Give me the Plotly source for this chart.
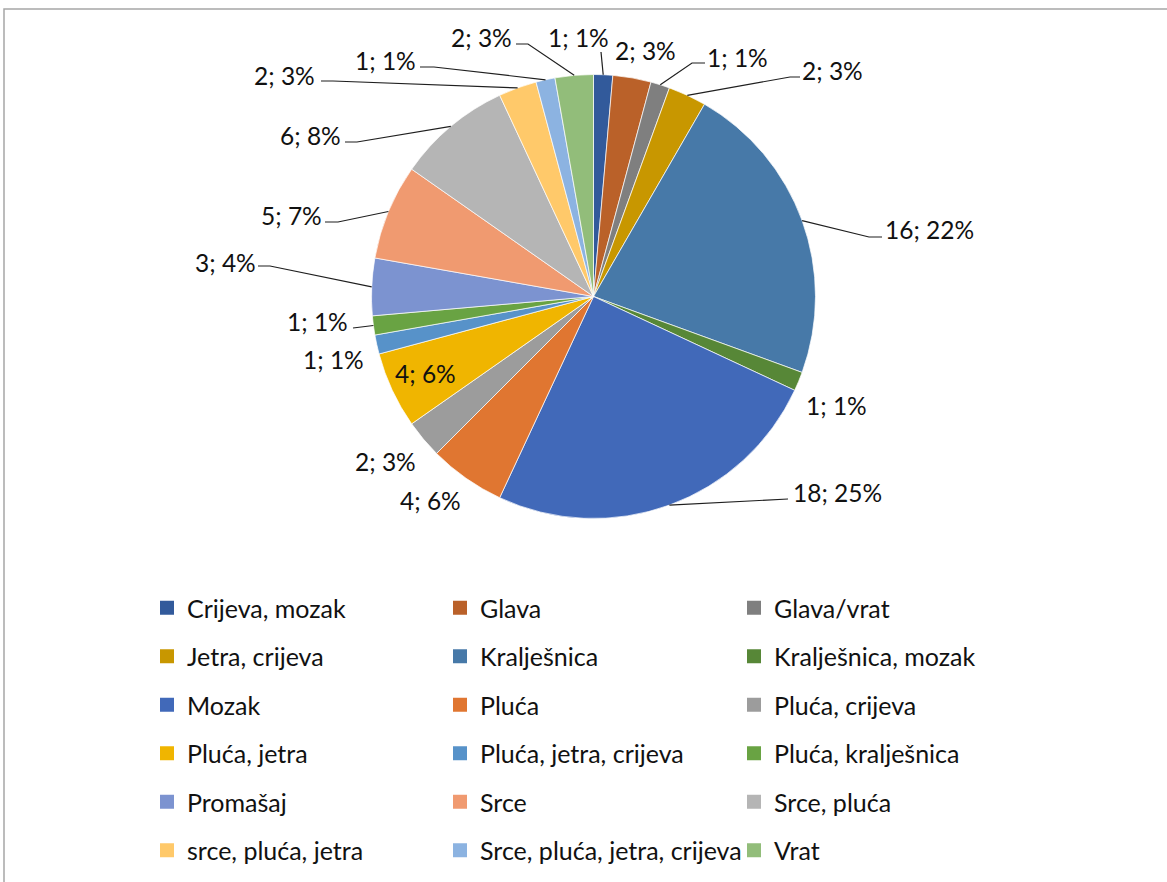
import math
import plotly.graph_objects as go

# ---------------- data ----------------
categories = [
    "Crijeva, mozak", "Glava", "Glava/vrat", "Jetra, crijeva", "Kralješnica",
    "Kralješnica, mozak", "Mozak", "Pluća", "Pluća, crijeva", "Pluća, jetra",
    "Pluća, jetra, crijeva", "Pluća, kralješnica", "Promašaj", "Srce",
    "Srce, pluća", "srce, pluća, jetra", "Srce, pluća, jetra, crijeva", "Vrat",
]
counts = [1, 2, 1, 2, 16, 1, 18, 4, 2, 4, 1, 1, 3, 5, 6, 2, 1, 2]
percent_labels = ["1%", "3%", "1%", "3%", "22%", "1%", "25%", "6%", "3%", "6%",
                  "1%", "1%", "4%", "7%", "8%", "3%", "1%", "3%"]

# ---------------- styles / layout ----------------
colors = [
    "#325A9B", "#BA6129", "#7F7F7F", "#C89700", "#4779A8", "#578737",
    "#4169B9", "#E07631", "#9C9C9C", "#F0B500", "#5792C9", "#69A343",
    "#7C93D0", "#F09A70", "#B5B5B5", "#FFC96A", "#8CB3E1", "#92BD7A",
]
W, H = 1167, 882
CX, CY, R = 593.5, 296.5, 222.0          # pie centre / radius in px
FONT = "Lato"
TXT = "#111111"

# label text centres (px) and leader-line elbow points (px)
label_pos = [
    (578, 37), (645, 50), (737, 57), (832, 70), (929, 229), (836, 405),
    (837, 492), (430, 500), (385, 461), (425, 373), (333, 359), (317, 321),
    (225, 262), (291, 215), (310, 135), (284, 75), (385, 60), (481, 37),
]
leaders = [
    [(601, 52)], None, [(692, 63), (705, 63)], [(790, 77), (800, 77)],
    [(869, 237), (882, 237)], None, [(788, 499)], None, None, None, None,
    [(353, 328)], [(270, 266), (258, 266)], [(338, 222), (325, 222)],
    [(357, 142), (345, 142)], [(333, 81), (321, 81)], [(434, 67), (420, 67)],
    [(528, 44), (516, 44)],
]

fig = go.Figure()

fig.add_trace(go.Pie(
    labels=categories, values=counts, sort=False, direction="clockwise",
    rotation=0, textinfo="none", hoverinfo="label+value+percent",
    marker=dict(colors=colors, line=dict(color="white", width=0.7)),
    domain=dict(x=[(CX - R) / W, (CX + R) / W], y=[1 - (CY + R) / H, 1 - (CY - R) / H]),
    showlegend=False,
))

# legend entries (three column legends)
for i, (cat, col) in enumerate(zip(categories, colors)):
    lg = ["legend", "legend2", "legend3"][i % 3]
    fig.add_trace(go.Scatter(
        x=[None], y=[None], mode="markers", name=cat, legend=lg, legendgroup=cat,
        marker=dict(symbol="square", size=14, color=col, line=dict(width=0)),
        hoverinfo="skip",
    ))

# data labels and leader lines
total = sum(counts)
cum = 0
shapes = []
annotations = []
for i, v in enumerate(counts):
    mid = (cum + v / 2) / total * 2 * math.pi
    cum += v
    ax = CX + R * math.sin(mid)
    ay = CY - R * math.cos(mid)
    tx, ty = label_pos[i]
    annotations.append(dict(
        x=tx, y=ty, xref="x", yref="y", text=f"{v}; {percent_labels[i]}",
        showarrow=False, font=dict(family=FONT, size=24.5, color=TXT),
        xanchor="center", yanchor="middle",
    ))
    if leaders[i]:
        pts = [(ax, ay)] + leaders[i]
        path = "M " + " L ".join(f"{x:.1f},{y:.1f}" for x, y in pts)
        shapes.append(dict(type="path", path=path, xref="x", yref="y",
                           line=dict(color="#1F1F1F", width=1.2)))

# chart area border
shapes.append(dict(type="rect", xref="x", yref="y", x0=4, y0=9, x1=W + 20, y1=H + 20,
                   line=dict(color="#A6A6A6", width=1.5)))

leg_common = dict(
    orientation="v", yanchor="top", xanchor="left", y=1 - 585 / H,
    font=dict(family=FONT, size=25, color=TXT), tracegroupgap=13,
    bgcolor="rgba(0,0,0,0)", itemclick=False, itemdoubleclick=False,
)

fig.update_layout(
    width=W, height=H, margin=dict(l=0, r=0, t=0, b=0),
    paper_bgcolor="white", plot_bgcolor="white",
    xaxis=dict(range=[0, W], visible=False, domain=[0, 1], fixedrange=True),
    yaxis=dict(range=[H, 0], visible=False, domain=[0, 1], fixedrange=True),
    shapes=shapes, annotations=annotations,
    legend=dict(x=(161 - 14) / W, **leg_common),
    legend2=dict(x=(454 - 14) / W, **leg_common),
    legend3=dict(x=(748 - 14) / W, **leg_common),
)

fig.write_html(
    "out.html",
    config={"displayModeBar": False},
    post_script="document.body.style.margin='0px';document.body.style.overflow='hidden';",
)
